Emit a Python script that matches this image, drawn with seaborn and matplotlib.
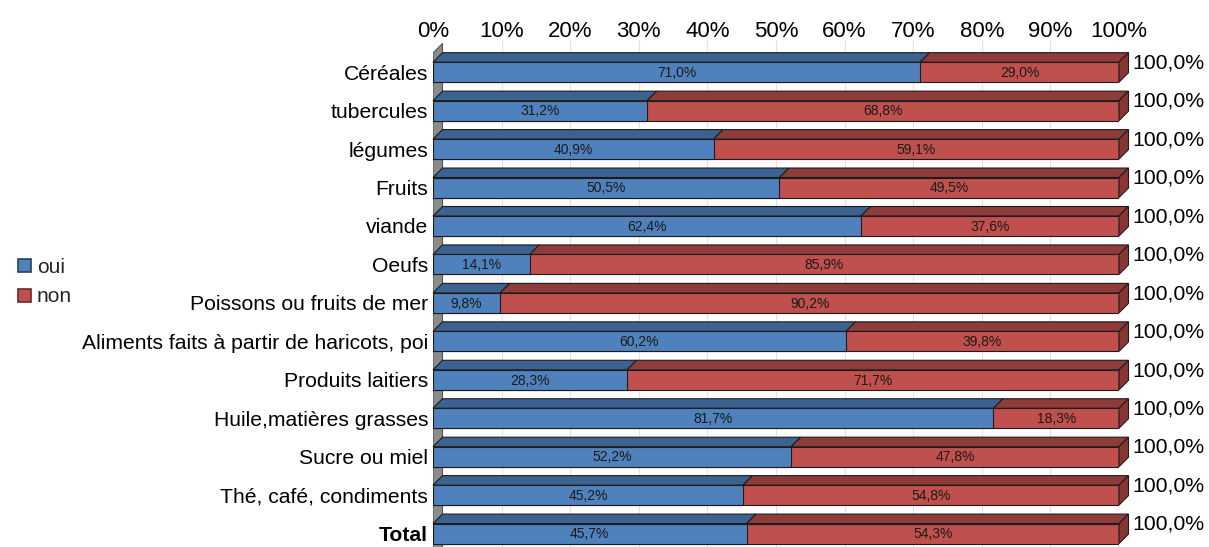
import matplotlib
matplotlib.use("Agg")
import matplotlib.pyplot as plt
from matplotlib.patches import Polygon, Patch
import numpy as np
import pandas as pd
import seaborn as sns

categories = ["Céréales", "tubercules", "légumes", "Fruits", "viande", "Oeufs",
              "Poissons ou fruits de mer", "Aliments faits à partir de haricots, poi",
              "Produits laitiers", "Huile,matières grasses", "Sucre ou miel",
              "Thé, café, condiments", "Total"]
oui = [71.0, 31.2, 40.9, 50.5, 62.4, 14.1, 9.8, 60.2, 28.3, 81.7, 52.2, 45.2, 45.7]
non = [29.0, 68.8, 59.1, 49.5, 37.6, 85.9, 90.2, 39.8, 71.7, 18.3, 47.8, 54.8, 54.3]
xticks = [0, 10, 20, 30, 40, 50, 60, 70, 80, 90, 100]
series_names = ["oui", "non"]

BLUE = "#4F81BD"
BLUE_TOP = "#3B6290"
RED = "#C0504D"
RED_TOP = "#8F3B39"
RED_SIDE = "#883634"
EDGE = "#1c1c1c"
W = 0.52

sns.set_theme(style="white")
plt.rcParams["font.family"] = ["Liberation Sans", "DejaVu Sans"]

df = pd.DataFrame({"cat": categories, "oui": oui, "non": non})
df["total"] = df["oui"] + df["non"]

fig = plt.figure(figsize=(12.09, 5.47), dpi=100)
ax = fig.add_axes([433 / 1209, 0.0, 686 / 1209, (547 - 40) / 547])

sns.barplot(data=df, y="cat", x="total", color=RED, width=W, ax=ax, orient="h",
            edgecolor=EDGE, linewidth=0.8, saturation=1, zorder=3)
sns.barplot(data=df, y="cat", x="oui", color=BLUE, width=W, ax=ax, orient="h",
            edgecolor=EDGE, linewidth=0.8, saturation=1, zorder=4)

n = len(categories)
ax.set_xlim(0, 100)
ax.set_ylim(n - 1 + 0.349, -0.837)

# pixel depth -> data units
inv = ax.transData.inverted()
p0 = ax.transData.transform((0, 0))
p1 = inv.transform(p0 + np.array([9.5, 9.5]))
dx, dy = p1[0], p1[1]

ymax = n - 1 + 0.349
# grey side wall
wall = Polygon([(0, -0.5), (dx, -0.5 + dy), (dx, ymax + 1), (0, ymax + 1)],
               closed=True, facecolor="#8c8c8c", edgecolor="#555555", lw=0.8, zorder=1)
ax.add_patch(wall)

# gridlines
for t in xticks[1:]:
    ax.axvline(t, color="#e3e3e3", lw=0.8, zorder=0)

for i in range(n):
    o, t = df["oui"][i], df["total"][i]
    yt = i - W / 2
    yb = i + W / 2
    for verts, fc in [
        ([(0, yt), (o, yt), (o + dx, yt + dy), (dx, yt + dy)], BLUE_TOP),
        ([(o, yt), (t, yt), (t + dx, yt + dy), (o + dx, yt + dy)], RED_TOP),
        ([(t, yt), (t, yb), (t + dx, yb + dy), (t + dx, yt + dy)], RED_SIDE),
    ]:
        ax.add_patch(Polygon(verts, closed=True, facecolor=fc, edgecolor=EDGE,
                             lw=0.8, zorder=5, clip_on=False))
    ax.text(o / 2, i + 0.02, f"{o:.1f}%".replace(".", ","), ha="center", va="center",
            fontsize=10, color="#1a1a1a", zorder=6)
    ax.text(o + df["non"][i] / 2, i + 0.02, f"{df['non'][i]:.1f}%".replace(".", ","),
            ha="center", va="center", fontsize=10, color="#1a1a1a", zorder=6)
    ax.text(102.0, i - 0.24, f"{t:.1f}%".replace(".", ","), ha="left", va="center",
            fontsize=15.3, color="black", zorder=6, clip_on=False)

ax.set_xlabel("")
ax.set_ylabel("")
ax.set_xticks(xticks)
ax.set_xticklabels([f"{v}%" for v in xticks])
ax.xaxis.tick_top()
ax.tick_params(axis="x", length=0, pad=-1.5, labelsize=16, colors="black")
ax.set_yticks(range(n))
ax.set_yticklabels(categories)
ax.tick_params(axis="y", length=0, pad=3.6, labelsize=15.2, colors="black")
for lbl in ax.get_yticklabels():
    if lbl.get_text() == "Total":
        lbl.set_fontweight("bold")
for s in ax.spines.values():
    s.set_visible(False)
ax.grid(False)

handles = [Patch(facecolor=BLUE, edgecolor="#2a3f5f", lw=1.2),
           Patch(facecolor=RED, edgecolor="#6a2a28", lw=1.2)]
fig.legend(handles, series_names, loc="center left", bbox_to_anchor=(0.0149, 0.484),
           frameon=False, fontsize=15, handlelength=0.6, handleheight=0.6,
           handletextpad=0.3, labelspacing=0.5, borderpad=0, borderaxespad=0)

fig.savefig("out.png", dpi=100)
